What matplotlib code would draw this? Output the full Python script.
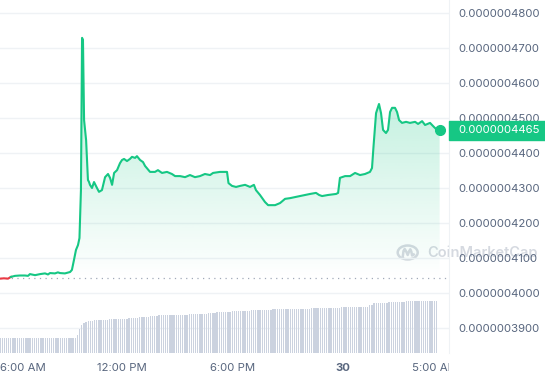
import numpy as np
import matplotlib
matplotlib.use("Agg")
import matplotlib.pyplot as plt
import matplotlib.transforms as mtransforms
from matplotlib.patches import Rectangle, Circle
from matplotlib.lines import Line2D

# time in hours since midnight of the 29th, price in units of 1e-10
hours = [
    5.38, 5.59, 5.81, 5.97, 6.19, 6.46, 6.73, 6.90, 7.00, 7.28,
    7.55, 7.82, 7.98, 8.09, 8.36, 8.52, 8.63, 8.90, 9.18, 9.28,
    9.39, 9.50, 9.61, 9.69, 9.77, 9.83, 9.88, 9.94, 10.05, 10.15,
    10.21, 10.26, 10.37, 10.48, 10.64, 10.75, 10.91, 11.08, 11.24, 11.35,
    11.46, 11.57, 11.73, 11.89, 12.00, 12.11, 12.27, 12.43, 12.54, 12.71,
    12.81, 12.98, 13.14, 13.25, 13.52, 13.79, 13.95, 14.17, 14.44, 14.71,
    14.88, 15.15, 15.42, 15.69, 15.96, 16.23, 16.50, 16.78, 16.94, 17.32,
    17.70, 17.78, 17.97, 18.19, 18.41, 18.68, 18.95, 19.16, 19.27, 19.49,
    19.76, 19.93, 20.31, 20.58, 20.85, 21.12, 21.66, 22.21, 22.53, 22.70,
    22.86, 23.18, 23.62, 23.73, 23.83, 24.11, 24.38, 24.65, 24.92, 25.19,
    25.46, 25.57, 25.65, 25.79, 25.95, 26.06, 26.17, 26.33, 26.44, 26.55,
    26.66, 26.82, 26.93, 27.04, 27.20, 27.42, 27.63, 27.91, 28.07, 28.29,
    28.45, 28.72, 28.94, 29.10, 29.24,
]
price = [
    4041, 4042, 4041, 4046, 4049, 4050, 4050, 4049, 4054, 4051,
    4054, 4056, 4053, 4057, 4056, 4059, 4057, 4056, 4060, 4066,
    4094, 4123, 4137, 4157, 4294, 4729, 4723, 4494, 4437, 4323,
    4317, 4309, 4300, 4317, 4300, 4289, 4294, 4331, 4340, 4329,
    4309, 4343, 4351, 4371, 4380, 4383, 4377, 4383, 4389, 4386,
    4391, 4380, 4374, 4363, 4346, 4346, 4351, 4343, 4346, 4340,
    4334, 4334, 4331, 4337, 4331, 4334, 4340, 4337, 4343, 4346,
    4346, 4314, 4306, 4303, 4306, 4309, 4303, 4309, 4294, 4280,
    4260, 4251, 4251, 4257, 4269, 4271, 4277, 4283, 4286, 4280,
    4277, 4280, 4283, 4286, 4329, 4334, 4334, 4343, 4337, 4340,
    4346, 4357, 4417, 4514, 4540, 4514, 4466, 4457, 4466, 4517,
    4529, 4529, 4517, 4494, 4486, 4489, 4486, 4489, 4483, 4491,
    4480, 4486, 4474, 4466, 4465,
]
baseline = 4043

# volume bars (one every 7 minutes), run-length coded: level, number of bars
vol_levels = [15, 18, 24, 28, 30, 31, 32, 33, 34, 34.7, 35.7, 36.7, 38,
              39, 39.7, 40.7, 42, 43, 44, 45, 46, 48, 49.7, 50.7, 52]
vol_counts = [36, 1, 1, 1, 1, 1, 3, 7, 9, 5, 5, 4, 14,
              9, 4, 7, 9, 10, 18, 14, 13, 2, 7, 8, 15]
vol_start = 5.38
vol_step = 7 / 60

price_ticks = [3900, 4000, 4100, 4200, 4300, 4400, 4500, 4600, 4700, 4800]
time_ticks = [6, 12, 18, 24, 29]
time_labels = ["6:00 AM", "12:00 PM", "6:00 PM", "30", "5:00 AM"]

GREEN = "#16C784"
RED = "#EA3943"
GREY_TEXT = "#58667E"
GRID = "#EFF2F5"

plt.rcParams["font.family"] = ["Inter", "DejaVu Sans"]

fig = plt.figure(figsize=(5.45, 3.8), dpi=100)
rect = [0, 27 / 380, 449 / 545, 353 / 380]
ax = fig.add_axes(rect, zorder=0)
vax = fig.add_axes(rect, zorder=1, sharex=ax)

x_lo, x_hi = 5.376, 29.75
ax.set_xlim(x_lo, x_hi)
ax.set_ylim(3828.6, 4837.1)

# price line, red while under the opening price
hours = np.array(hours)
price = np.array(price)
k = int(np.argmax(price >= baseline))
ax.plot(hours[:k + 1], price[:k + 1], color=RED, lw=1.5, zorder=4,
        solid_joinstyle="round")
ax.plot(hours[k:], price[k:], color=GREEN, lw=1.5, zorder=4,
        solid_joinstyle="round")
ax.plot(hours[-1], price[-1], "o", color=GREEN, ms=7, zorder=5)

# gradient fill under the line
poly = ax.fill_between(hours, price, baseline, color="none", lw=0)
top = 4800
grad = np.zeros((256, 1, 4))
grad[:, 0, :3] = matplotlib.colors.to_rgb(GREEN)
grad[:, 0, 3] = np.linspace(0, 0.38, 256)
im = ax.imshow(grad, extent=[hours[0], hours[-1], baseline, top],
               origin="lower", aspect="auto", zorder=3, interpolation="bilinear")
im.set_clip_path(poly.get_paths()[0], transform=ax.transData)
ax.set_xlim(x_lo, x_hi)
ax.set_ylim(3828.6, 4837.1)

ax.axhline(baseline, color="#A1A9B8", lw=0.9, ls=(0, (1, 3.5)), zorder=3)

# axes styling
for side in ["top", "left", "bottom"]:
    ax.spines[side].set_visible(False)
ax.spines["right"].set_color(GRID)
ax.yaxis.tick_right()
ax.set_yticks(price_ticks)
ax.set_yticklabels(["%.10f" % (v * 1e-10) for v in price_ticks])
ax.tick_params(axis="y", length=0, pad=6.5, labelsize=8.2, labelcolor=GREY_TEXT)
for lab in ax.get_yticklabels():
    lab.set_horizontalalignment("left")
ax.set_xticks([])
ax.grid(axis="y", color=GRID, lw=1)
ax.set_axisbelow(True)

# volume
vol = np.repeat(vol_levels, vol_counts)
vol_x = vol_start + vol_step * np.arange(len(vol))
vax.bar(vol_x, vol, width=vol_step * 0.62, color="#CBD2DF", align="center")
vax.set_ylim(0, max(vol_levels) * 353 / 52)
vax.axis("off")
vax.patch.set_alpha(0)
vax.set_xlim(x_lo, x_hi)

# time labels under the chart
clip = mtransforms.TransformedBbox(mtransforms.Bbox([[0, -1], [1, 1]]), ax.transAxes)
off = mtransforms.ScaledTranslation(0, -15 / 100, fig.dpi_scale_trans)
for t, lab in zip(time_ticks, time_labels):
    xpos, ha = t, "center"
    if t == time_ticks[0]:
        xpos, ha = x_lo, "left"
    txt = ax.text(xpos, 0, lab, transform=ax.get_xaxis_transform() + off,
                  ha=ha, va="center", fontsize=8.2, color=GREY_TEXT,
                  fontweight="bold" if lab == "30" else "normal")
    txt.set_clip_box(clip)
    txt.set_clip_on(True)

# current price tag
tag_tr = mtransforms.blended_transform_factory(ax.transAxes, ax.transData)
ax.add_patch(Rectangle((1.0, price[-1] - 27), 0.3, 54, transform=tag_tr,
                       color=GREEN, clip_on=False, zorder=6))
ax.text(1 + 9 / 449, price[-1], "%.10f" % (price[-1] * 1e-10), transform=tag_tr,
        color="white", fontsize=8.2, va="center", ha="left", zorder=7,
        clip_on=False)

# watermark
wm = "#D5D9E0"
ax.add_artist(Circle((407.7 / 545, 127.5 / 380), 10 / 545, transform=fig.transFigure,
                     fill=False, ec=wm, lw=1.8, zorder=0.5))
mx = [-5, -4.2, -3, -1.5, 0, 1.3, 2.6, 3.6, 4.4, 6.0]
my = [-4.5, 1.5, 3.5, 1.0, -2.5, 1.0, 3.2, 1.0, -3.0, -2.0]
ax.add_artist(Line2D([(407.7 + a) / 545 for a in mx], [(127.5 + b) / 380 for b in my],
                     transform=fig.transFigure, color=wm, lw=1.8, zorder=0.5))
ax.text(427 / 545, 127.5 / 380, "CoinMarketCap", transform=fig.transFigure,
        fontsize=10.5, color=wm, va="center", ha="left", zorder=0.5,
        fontweight="semibold", clip_on=False)

fig.savefig("out.png", dpi=100)
